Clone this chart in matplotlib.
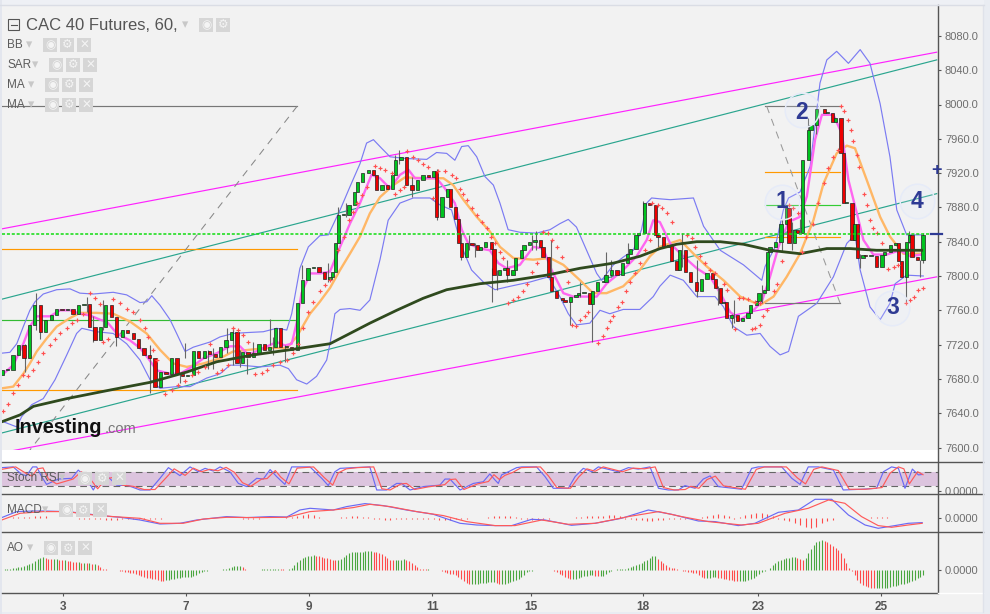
import matplotlib
matplotlib.use("Agg")
import matplotlib.pyplot as plt
import numpy as np
from matplotlib.lines import Line2D
from matplotlib.patches import Rectangle
from matplotlib.transforms import Bbox, TransformedBbox

plt.rcParams['font.family'] = ['Liberation Sans', 'DejaVu Sans']

# ---------------- data (x in trading hours from the chart's left edge) ----------------
title = "CAC 40 Futures, 60,"
day_labels = ["3", "7", "9", "11", "15", "18", "23", "25"]
day_hours = [22.3, 67.3, 112.4, 157.4, 193.6, 234.5, 276.6, 321.8]
price_ticks = list(range(7600, 8081, 40))

candle_hours = list(range(0, 121, 2)) + [
    121,122,123,125,127,129,130,132,134,136,137,139,141,143,144,146,148,150,152,154,156,158,159,161,163,164,
    166,167,168,170,172,174,175,177,179,180,182,184,185,187,188,190,191,193,195,197,198,200,201,203,205,206,
    208,210,211,213,215,216,218,220,221,223,225,227,229,230,232,233,235,237,239,240,
    242,244,245,247,248,250,252,254,256,258,260,261,263,264,265,267,269,271,273,274,276,277,279,280,281,283,
    285,287,288,290,291,293,295,296,298,301,302,304,305,307,308,309,311,312,313,315,316,318,320,322,323,325,
    327,328,329,331,332,333,335,337]
closes = [7690,7690,7708,7719,7704,7743,7766,7735,7749,7754,7761,7760,7761,7756,7766,7767,7741,7725,7741,7766,
          7752,7729,7737,7733,7727,7716,7708,7704,7671,7688,7686,7704,7686,7683,7684,7713,7704,7712,7709,7706,
          7717,7725,7735,7698,7711,7706,7710,7721,7714,7717,7739,7717,7717,7714,7768,7795,7809,7810,7805,7797,7799,
          7805,7838,7871,7871,7883,7898,7910,7920,7924,7918,7900,7906,7902,7918,7935,7939,7906,7900,7912,7918,7916,
          7923,7869,7892,7902,7881,7866,7838,7822,7838,7836,7830,7834,7840,7832,7801,7807,7809,7801,7807,7821,7830,
          7836,7840,7842,7834,7822,7799,7782,7774,7772,7770,7776,7778,7780,7780,7767,7782,7793,7793,7801,7807,7801,
          7815,7826,7832,7848,7850,7885,7883,7848,7846,
          7834,7836,7817,7807,7830,7805,7793,7782,7797,7803,7797,7786,7768,7770,7751,7755,7747,7751,7757,7766,7771,
          7780,7784,7828,7834,7840,7861,7879,7838,7854,7850,7935,7970,7976,7995,7990,7990,7980,7984,7943,7885,7885,
          7842,7861,7821,7825,7823,7823,7811,7825,7828,7836,7838,7817,7799,7840,7848,7822,7819,7848]
first_open = 7685

wick_hours = [8.4,12.5,14,31,33.4,37,41.7,54,65,67,75.5,77.3,82.2,84.6,87,89.5,92,98,99.3,103.5,109.6,119.4,
              123,126,143.8,145.4,150,159,168,171,173,179.4,181,184.6,193.8,195.4,201,208,211.5,215.7,221,223,229,234.6,240,
              248.7,254.2,262,267,268,278,285.3,289,292,295,298,314,330.8,332,336,337]
wick_high = [7721,7780,7758,7776,7753,7772,7741,7719,7686,7722,7714,7716,7739,7741,7714,7704,7723,7750,7729,7719,7813,7815,
             7881,7885,7941,7947,7916,7925,7850,7848,7838,7809,7807,7819,7848,7852,7842,7776,7793,7782,7828,7819,7838,7887,7850,
             7850,7819,7788,7756,7772,7789,7867,7863,7867,7984,7995,7826,7803,7852,7819,7850]
wick_low = [7688,7737,7727,7758,7723,7737,7718,7663,7675,7704,7692,7692,7710,7696,7694,7686,7706,7719,7708,7700,7797,7793,
            7838,7869,7918,7931,7892,7865,7819,7830,7822,7770,7784,7793,7830,7830,7795,7743,7776,7723,7799,7799,7819,7871,7834,
            7811,7776,7766,7739,7745,7768,7828,7830,7850,7966,7966,7809,7768,7838,7799,7815]

bb_up_h = [-0.1,2.9,5.4,7.8,10.2,12.1,15.1,20,24.9,28.5,33.4,40.7,45.6,50.5,53,54.8,57.8,61.5,63.9,67,70,76.1,79.8,84.6,89.5,95.6,100.5,104.2,106,109,112.1,116.3,119.4,
           123.7,127.3,131,133.4,135.9,138.9,142,148,155.4,159,162.7,165.7,168.2,170.6,173.7,176.7,179.8,182.2,185.2,189.5,195.6,200.5,204.1,207.2,210.2,213.9,217.6,219.4,223.7,227.3,231,234,235.9,237.7,240.7,
           244.5,253,256.7,262.8,271.3,278,279.2,282.9,285.9,287.8,292,295.7,299.3,301.8,305.4,309.7,314,317.6,321.3,324.9,327.4,331,336.5]
bb_up = [7710,7711,7721,7741,7760,7770,7779,7784,7785,7780,7779,7781,7778,7769,7770,7777,7766,7749,7733,7712,7717,7723,7729,7733,7734,7735,7739,7737,7756,7809,7834,7847,7848,
         7877,7904,7931,7955,7959,7949,7939,7937,7936,7944,7943,7935,7951,7952,7939,7916,7906,7885,7854,7851,7850,7854,7861,7866,7857,7830,7803,7795,7813,7822,7830,7854,7885,7891,7890,
         7889,7891,7858,7830,7813,7795,7811,7834,7877,7891,7898,7928,8025,8052,8062,8048,8064,8048,8001,7939,7877,7848,7848]
bb_lo_h = [0.5,5.4,7.2,10.9,15.1,19.4,23.7,27.3,29.2,34.6,40.7,45.6,50.5,54.2,57.8,63.9,68.8,74.9,79.8,83.4,87.1,94.4,101.7,104.8,107.8,111.5,115.1,118.8,120,
           121.8,123.7,127.3,131,134.6,138.3,141.3,145.6,150.5,156.6,160.2,164.5,168.2,171.8,176.1,180.4,185.9,193.2,199.9,204.1,207.2,210.2,215.1,218.8,222.4,227.3,233.4,238.3,240.7,
           244.5,249.3,254.2,260.9,264,267.6,272.5,277.4,281,284.7,287.8,291.4,298.1,304.2,309.1,312.1,314,317.6,321.3,324.9,326.8,331,337.1]
bb_lo = [7630,7624,7636,7650,7657,7679,7708,7733,7739,7735,7733,7721,7702,7679,7669,7671,7671,7681,7686,7696,7696,7694,7696,7692,7679,7674,7683,7702,7721,
         7756,7761,7762,7760,7772,7819,7865,7885,7891,7891,7883,7877,7834,7807,7793,7784,7788,7793,7799,7776,7756,7743,7745,7760,7756,7761,7761,7776,7788,
         7801,7795,7776,7776,7764,7741,7731,7733,7718,7708,7712,7753,7768,7799,7838,7848,7807,7764,7749,7768,7791,7801,7800]

fast_h = [0.5,4.1,7.8,10.2,12.7,17.6,21.2,24.9,28.5,32.2,35.9,38.3,42,46.8,50.5,53.5,56.6,61.5,65.1,69.4,73.7,78.6,83.4,87.1,90.1,94.4,100.5,103.5,106,107.8,109.6,112.7,116.3,120,
          123.7,127.3,131,135.2,138.3,142,145.6,148.7,151.1,155.4,159,162.1,165.7,168.2,170.6,174.9,178.5,181.6,184.6,189.5,194.4,198,201.1,205.4,209,213.9,217.6,221.2,227.3,232.2,235.9,238.3,240.7,
          244.5,249.3,254.2,259.1,262.8,266.4,270.1,273.7,278,281,284.1,287.8,292,294.5,297.5,300,304.2,307.3,309.7,312.8,315.2,318.8,323.7,328.6,332.3,336.5]
fast = [7686,7696,7721,7741,7753,7753,7760,7760,7756,7754,7749,7747,7733,7725,7716,7704,7690,7686,7686,7694,7704,7710,7718,7718,7708,7714,7723,7719,7721,7745,7780,7803,7803,7805,
        7834,7861,7885,7918,7914,7902,7918,7924,7914,7914,7914,7902,7885,7854,7838,7832,7830,7815,7809,7813,7834,7832,7807,7780,7776,7776,7776,7791,7807,7823,7842,7865,7863,
        7838,7823,7809,7799,7780,7758,7749,7756,7770,7799,7834,7863,7869,7893,7959,7988,7988,7966,7912,7873,7842,7825,7825,7830,7823,7825]

slow_h = [-0.1,4.1,7.8,10.2,12.7,16.3,20,24.9,28.5,34.6,40.7,46.8,52.9,57.8,62.7,67.6,73.7,79.8,84.6,90.7,96.8,104.2,107.8,112.7,116.3,120,
          123.7,127.3,131,134.6,138.3,143.2,147.4,155.4,161.5,165.1,168.8,173.7,178.5,182.2,187.1,194.4,200.5,205.4,211.5,216.3,221.2,227.3,233.4,237.1,240.7,
          248.1,253,257.9,264,270.1,277.4,282.3,287.1,292,296.9,300.6,305.4,309.1,312.1,316.4,321.3,324.9,329.8,336.5]
slow = [7669,7671,7686,7698,7712,7727,7741,7751,7757,7757,7756,7747,7733,7714,7698,7694,7698,7704,7712,7714,7716,7716,7729,7756,7770,7786,
        7807,7826,7846,7873,7892,7906,7915,7914,7914,7906,7889,7869,7852,7834,7821,7819,7821,7813,7795,7780,7780,7788,7807,7823,7834,
        7842,7826,7811,7795,7776,7766,7776,7799,7826,7865,7908,7943,7952,7949,7912,7869,7846,7826,7826]

long_h = [-0.1,6.6,11.5,23.7,39.5,54.2,67.6,78.6,92,105.4,120,126.1,134.6,144.4,154.1,162.7,174.9,187.1,199.3,211.5,223.7,233.4,240.8,
          246.9,254.2,262.8,271.3,281,292,301.8,310.3,320,336.5]
long_ma = [7630,7638,7648,7657,7667,7676,7688,7700,7708,7714,7721,7731,7745,7760,7774,7784,7791,7795,7801,7809,7815,7823,7832,
           7837,7840,7840,7837,7830,7826,7832,7832,7830,7830]

sar_h = [0.5,2.3,4.2,6,7.8,9.6,11.5,13.3,15.1,17.6,19.4,21.2,23.7,25.5,27.3,29.8,32.2,34,35.9,37.1,38.9,40.7,43.2,45.6,48.1,50.5,52.3,53.5,55.4,56.6,
         59.6,62.1,64.5,67,69.4,71.8,74.3,76.1,78.5,80.4,82.8,84.6,86.5,88.3,90.1,92.6,95,96.8,99.3,101.7,104.2,106.6,108.4,110.3,112.1,113.9,116.3,118.2,120,
         123,125,127,128.5,130,131.6,133.4,136.5,138.3,140.1,142.6,143.8,145.6,147,148.3,150.5,152.3,154.1,156,157.8,159.6,162.1,164.5,166.3,167.6,168.8,170,171.8,173.7,175.5,177.3,179.1,180.4,182.2,183.4,
         185.2,187.1,188.9,190.7,192,193.8,195.6,198,199.9,201.1,202.9,204.8,206.6,207.2,208.4,210.2,211.5,213.3,214.5,
         218.2,220,221.2,222.4,223.7,225.5,226.7,228.5,229.8,231.6,233.4,235.2,237.1,237.7,240.1,
         241.4,243.2,245.1,250.6,252.4,253.6,255.4,257.3,259.1,260.9,264,265.2,268.2,269.5,271.3,273.1,275.6,277.4,274.3,275.6,277.4,278.6,279.8,282.3,283.5,285.3,
         287.8,289.6,291.4,292.6,294.1,296.9,298.7,300.6,302.4,304.2,306,306.9,308.1,309.7,310.6,311.5,312.8,313.7,315.4,316.4,317.6,318.8,320,321.9,324.3,326.2,328,330.8,332.3,333.7,335.3,336.9]
sar = [7642,7651,7663,7673,7685,7683,7690,7700,7710,7720,7727,7733,7739,7745,7749,7756,7780,7774,7767,7723,7727,7773,7768,7762,7758,7749,7739,7729,7714,7702,
       7662,7667,7673,7677,7684,7688,7694,7721,7687,7690,7696,7739,7737,7731,7723,7686,7687,7690,7696,7700,7702,7710,7721,7739,7758,7770,7782,7789,7795,
       7830,7846,7865,7875,7885,7895,7904,7928,7926,7924,7920,7896,7900,7904,7946,7939,7935,7931,7927,7891,7923,7922,7918,7914,7902,7896,7889,7879,7871,7863,7856,7846,7838,7828,7821,
       7769,7772,7776,7782,7791,7805,7815,7851,7850,7842,7834,7822,7807,7793,7743,7742,7749,7753,7758,
       7722,7730,7739,7747,7753,7764,7770,7782,7793,7803,7815,7830,7842,7885,7883,
       7879,7873,7863,7848,7844,7834,7823,7815,7807,7803,7791,7784,7738,7774,7774,7773,7770,7768,7738,7739,7743,7753,7760,7782,7791,7817,
       7883,7879,7874,7828,7846,7861,7885,7908,7926,7939,7947,7998,7992,7982,7970,7957,7941,7927,7896,7883,7865,7856,7850,7838,7808,7811,7813,7768,7772,7775,7784,7786]

k_h = [-0.1,4.1,7.2,9,11.2,12.7,14.5,16.3,20.6,25.5,27.9,30.4,33.4,35.9,38.3,42,46.2,50.5,54.2,57.8,60.9,65.1,68.8,71.8,74.3,77.3,79.8,83.4,86.5,89.5,93.2,95.6,98.1,100.5,103.5,106,112.7,117,119.4,121.8,123.7,128.5,134.6,137.1,140.7,144.4,146.2,149.3,154.2,160.2,162.1,163.9,167.6,172.5,176.1,178.5,180.4,
       181.6,182.8,185.3,188.3,190.2,195.6,198.7,201.7,207.2,209.7,212.7,215.8,218.2,225.5,229.2,232.8,237.1,240.2,243.8,247.5,249.9,253.6,256.6,259.1,262.1,270.6,274.3,276.7,285.3,289,292,295,298.7,304.2,307.8,314.5,320,322.5,325.5,328,330.4,333.1,335.3,336.7]
k_val = [97,100,69,64,100,100,60,28,50,53,87,60,5,53,64,25,23,5,5,53,97,64,100,80,94,83,100,80,32,19,53,50,89,60,28,100,100,53,23,80,94,97,100,5,5,32,32,5,19,25,50,50,5,32,39,71,46,
         32,67,80,97,100,100,60,12,12,60,94,80,100,80,97,91,100,12,5,5,23,12,50,63,19,8,94,100,100,53,28,100,100,87,5,8,12,80,100,94,12,91,67,69]
d_h = [-0.1,5,9,11,13,15,17,20,26,29,32,35,38,41,44,48,52,56,60,63,67,70,73,76,79,82,85,88,91,95,97,100,102,105,108,114,118,121,123,126,130,136,139,142,146,148,151,156,162,164,166,169,174,178,180,182,
       184,187,190,197,200,203,208,211,214,217,220,227,231,235,239,242,246,250,252,255,258,261,264,272,276,279,287,291,294,297,300,306,310,316,322,325,328,330,332,335,337]
d_val = [90,100,72,62,92,96,50,30,50,80,55,10,50,58,25,20,7,7,55,92,65,95,80,90,84,98,78,35,20,50,52,85,58,30,95,100,55,25,75,92,97,100,10,5,30,32,7,18,27,48,50,7,30,40,68,48,
         65,78,97,100,62,15,12,58,92,82,100,80,95,92,100,15,5,7,20,12,48,62,22,8,90,100,100,55,30,90,100,85,8,8,15,75,100,92,30,80,68]

macd_h = [-0.1,5.4,11.5,15.1,23.7,29.8,35.9,43.2,50.5,57.8,65.1,71.2,82.2,89.5,98.1,104.2,109,112.7,121.2,126.1,132.8,139.5,148,157.8,167.6,173.7,180.4,
          186.5,193.8,198.7,208.4,217,226.7,236.5,245,254.8,260.9,269.4,275.5,284.1,291.4,297.5,303.6,309.7,315.8,320.6,326.7,331.6,336.7]
macd = [0.7,6.7,7.3,7.3,6.7,5,2.7,1,-1.7,-5.7,-5,-1.7,1.7,0.7,1.7,1.3,8.3,10,8.3,11.7,14.7,12.7,8.3,4,-5,-6.7,-7.3,
        -7.3,-1,-1.7,-7,-5,0,8.3,4,-2.7,-3.3,-7.3,-5,6,8.3,19,19,3.3,-6.7,-10,-7.3,-5,-4.3]
signal_h = [-0.1,6.6,15.1,23.7,31,40.7,50.5,57.8,66.3,73.7,82.2,92,104.2,112.7,121.2,128.5,134.6,142,151.7,161.5,170,180.4,
            187.7,197.5,207.2,217,229.2,240.2,248.7,258.4,270.6,276.7,286.5,295,302.4,308.4,314.5,320.6,325.5,331.6,336.7]
signal = [-1.7,5,6.7,6.7,4,1.7,0,-5,-5,-0.7,1,0.7,1,6.7,8.3,10.7,14,11.7,6.7,2.7,-3.3,-7.3,
          -7.3,-1.7,-6,-5,1.7,6.7,1.7,-3.3,-6.7,-5,5,10,18.3,15,1.7,-7.3,-9,-6.7,-5]
hist = [.5,.7,1,1.2,1.5,1.7,2,2.2,2,0,0,0,0,.3,-.3,-.5,-.5,-.7,-1,-1.5,-2,-1.5,-.7,-.7,-1,-1,-1,-1,-.7,-.5,
        0,.5,.5,0,.5,.7,.7,.7,.5,.7,.5,.7,.5,.5,-.7,-1,-.7,-.5,.5,.5,.5,.3,1,1.5,2,3,4,3,1,.5,
        .3,.3,1,1.7,2,2,1.7,1,-.7,-1,-1.5,-1.5,-1,-.5,-.5,-.5,-.5,-.5,-.5,-1,-1.5,-2,-1.5,-1,-.5,-.5,.5,.5,0,1,2,2.5,2.5,2,
        1,-.5,-1,-1.5,-1.5,-1,-.5,.3,.5,.5,.7,1,1.5,2,2,2.5,2.5,3,3,2.5,-.5,-1,-1.5,-2,-3,-3,-2,-1.5,-.5,-.5,-.5,-.5,.5,.7,
        1.5,2.5,3.5,4,3.5,2,-.3,1.5,3,4.5,5.5,5.5,4,2,-.5,-1.5,-3,-5,-7,-9,-10,-9,-5,-3,-2,0,.5,.7,.5,0,.7,1,1,1,1]

ao = [.5,.7,1,1.5,2,2.5,3,3.5,4.5,5.5,6,7,9,11,12.5,13,12,11.5,11,11,
      11,10.5,10,10,9.5,9,8.5,8,8,7.5,7.5,7,7,6.5,6.5,5,3,1.5,1,.5,
      0,.3,0,-.5,-1,-1.5,-2,-2.5,-3,-4,-5,-6,-7,-7.5,-8,-8.5,-9,-10,-10.5,-11,
      -10,-9.5,-9,-8.5,-8,-7.5,-7,-7,-6.5,-6.5,-6,-4.5,-2.5,-1.5,-.7,-.5,-.2,0,0,0,
      .5,1,1.5,2.5,3.5,4,4,4,3,1.5,.5,.5,.3,.3,.5,.7,.8,.9,1,1,
      1,1,.8,.7,.5,1,2.5,5,8,10,12,13,14,14.5,15,14.5,14,13,12.5,12,
      11,10.5,10,10,11,13,15,17,18,18.5,18.5,18.5,18.5,19,19,19,18.5,18,17,16,
      14,12,10.5,10,10,10,10.5,11,10.5,9,7,5,3,1.5,1,.7,.7,.5,.5,.5,
      -.3,-1,-1.5,-3,-3.5,-4,-5,-7,-9,-11,-13,-14,-14,-14,-13.5,-13,-13,-12.5,-12,-12,
      -12,-13,-14,-14,-13.5,-13,-12,-11,-10,-9,-7,-5,-2,-1,-.5,0,.5,.5,.3,.2,
      0,-.3,-1,-2,-3.5,-5,-6.5,-8,-9,-9,-8.5,-7.5,-7,-6,-5.5,-5,-5,-5.5,-6,-6,
      -5.5,-4,-2,-.5,.5,.7,1,1,1.5,2.5,3,4,5,6,7.5,9,10.5,12.5,14,14,
      11,9,7,5,3.5,2.5,2,1.5,.5,-.5,-1,-1.5,-2,-2.5,-3,-5,-7,-8,-8,-7.5,
      -7,-7,-7.5,-8,-8.5,-9,-9.5,-10,-10.5,-11,-11,-11,-10.5,-10,-9,-8,-6,-4,-2,-1,
      0,2.5,5,7,9,10,11,12,12.5,13,13,12.5,11.5,10.5,12,17,21,25,28,29.5,
      30,29.5,28,26,24,22,20,17,12,7,2.5,-1,-5,-10,-13,-15,-16,-17,-17.5,-18,
      -18,-18,-18,-18,-17.5,-17,-16,-15.5,-15,-14,-13.5,-13,-12,-11,-9.5,-8,-6.5,-5]

magenta_upper = ([0, 342], [7855, 8061])
teal_upper = ([0, 342], [7773, 8052])
teal_lower = ([0, 342], [7617, 7896])
magenta_lower = ([0, 342], [7594, 7799])
fib_left_hours = (0, 108)
fib_left_levels = [(7998, '#777777'), (7832, '#ff9900'), (7749, '#33bb33'), (7667, '#ff9900')]
fib_left_diag = ([108, 10.2], [7998, 7597])
fib_right_hours = (279.2, 306.6)
fib_right_levels = [(7998, '#777777'), (7921, '#ff9900'), (7883, '#33cc33'), (7845, '#ff9900'), (7768, '#777777')]
fib_right_diag = ([279.8, 306.7], [7998, 7768])
last_level = 7848.6
wave_labels = ["1", "2", "3", "4"]
wave_hours = [285.3, 292.6, 325.8, 334.7]
wave_prices = [7886.6, 7991, 7763, 7887]
wave_circle_prices = [7886.6, 7994, 7763, 7887]

# ---------------- layout helpers ----------------
W, H = 990, 614
BG = '#f2f2f2'
fig = plt.figure(figsize=(W/100, H/100), dpi=100, facecolor=BG)
def box(x0, y0, x1, y1):
    return [x0/W, 1-y1/H, (x1-x0)/W, (y1-y0)/H]
def fx(x): return x/W
def fy(y): return 1-y/H
def hline(x0, x1, y, color='#555555', lw=1.0):
    fig.add_artist(Line2D([fx(x0), fx(x1)], [fy(y), fy(y)], color=color, lw=lw, transform=fig.transFigure))
def vline(x, y0, y1, color='#555555', lw=1.0):
    fig.add_artist(Line2D([fx(x), fx(x)], [fy(y0), fy(y1)], color=color, lw=lw, transform=fig.transFigure))
def rect(x0, y0, x1, y1, color):
    fig.add_artist(Rectangle((fx(x0), fy(y1)), (x1-x0)/W, (y1-y0)/H, color=color, lw=0, transform=fig.transFigure))

XL, XR = 2, 938
xlim = (0, (XR-XL)/2.733)
LBL = '#6e6e6e'

rect(0, 0, 990, 5, '#eef0f5')
rect(984, 0, 990, 614, '#e9ecf2')
rect(0, 612, 990, 614, '#e9ecf2')
rect(0, 0, 2, 614, '#e3e6ee')
rect(XL, 450, XR, 462, 'white')

# ---------------- main panel ----------------
ax = fig.add_axes(box(XL, 5, XR, 450), facecolor=BG)
ax.set_xlim(xlim)
ax.set_ylim(7600-(450-447.5)/0.8575, 7600+(447.5-5)/0.8575)
for s in ax.spines.values():
    s.set_visible(False)
ax.set_xticks([])
ax.yaxis.tick_right()
ax.set_yticks(price_ticks)
ax.set_yticklabels([f"{p:.1f}" for p in price_ticks])
ax.tick_params(axis='y', length=2, width=0.8, color='#555555', labelcolor=LBL, labelsize=8, pad=3)

ax.plot(*magenta_upper, color='#ff22ff', lw=0.85, zorder=2)
ax.plot(*magenta_lower, color='#ff22ff', lw=0.85, zorder=2)
ax.plot(*teal_upper, color='#2aa58e', lw=0.85, zorder=2)
ax.plot(*teal_lower, color='#2aa58e', lw=0.85, zorder=2)
for lvl, col in fib_left_levels:
    ax.plot(fib_left_hours, [lvl, lvl], color=col, lw=0.85, zorder=2)
for lvl, col in fib_right_levels:
    ax.plot(fib_right_hours, [lvl, lvl], color=col, lw=0.85, zorder=2)
ax.plot(*fib_left_diag, color='#888888', lw=0.75, dashes=(7, 6), zorder=2)
ax.plot(*fib_right_diag, color='#999999', lw=0.75, dashes=(7, 6), zorder=2)

ax.plot(bb_up_h, bb_up, color='#7b7bf2', lw=0.85, zorder=3)
ax.plot(bb_lo_h, bb_lo, color='#7b7bf2', lw=0.85, zorder=3)
ax.plot(slow_h, slow, color='#ffb766', lw=1.7, zorder=3)
ax.plot(fast_h, fast, color='#ff66f0', lw=1.7, zorder=3)

ax.vlines(wick_hours, wick_low, wick_high, color='#666666', lw=0.8, zorder=4)
opens = [first_open] + closes[:-1]
for h, o, c in zip(candle_hours, opens, closes):
    col = '#00c41f' if c >= o else '#ee0000'
    ax.bar(h, max(abs(c-o), 1.5), bottom=min(o, c), width=1.2, color=col, edgecolor='#222222', linewidth=0.5, zorder=5)

ax.plot(long_h, long_ma, color='#2f4a1e', lw=2.0, zorder=6)
ax.scatter(sar_h, sar, marker='+', s=8, linewidths=0.85, color='#ff5050', zorder=7)
ax.axhline(last_level, color='#11dd11', lw=1.1, dashes=(2, 1.2), zorder=7)

ax.scatter(wave_hours, wave_circle_prices, s=620, facecolors=(0.88, 0.92, 1, 0.18), edgecolors='#e6ebf8', linewidths=1.1, zorder=8)
for lab, h, p in zip(wave_labels, wave_hours, wave_prices):
    ax.text(h, p, lab, color='#2e3a94', fontsize=16.5, fontweight='bold', ha='center', va='center', zorder=9)

# ---------------- lower panels ----------------
stoch = fig.add_axes(box(XL, 462, XR, 494), facecolor=BG)
stoch.set_xlim(xlim)
stoch.set_ylim((491.2-494)/0.243, (491.2-462)/0.243)
stoch.axhspan(20, 80, color='#dcc4de', lw=0)
stoch.axhline(80, color='#666666', lw=0.8, dashes=(6, 4))
stoch.axhline(20, color='#666666', lw=0.8, dashes=(6, 4))
stoch.plot(k_h, k_val, color='#6a6af5', lw=0.85)
stoch.plot(d_h, d_val, color='#ff5a5a', lw=0.85)

macd_ax = fig.add_axes(box(XL, 494, XR, 532), facecolor=BG)
macd_ax.set_xlim(xlim)
macd_ax.set_ylim(-13.7, 24.3)
macd_ax.vlines(np.arange(len(hist))*2, 0, hist, color='#ff4a4a', lw=0.8)
macd_ax.plot(macd_h, macd, color='#6a6af5', lw=0.85)
macd_ax.plot(signal_h, signal, color='#ff5a5a', lw=0.85)

ao_ax = fig.add_axes(box(XL, 532, XR, 593), facecolor=BG)
ao_ax.set_xlim(xlim)
ao_ax.set_ylim(-23, 38)
ao_vals = np.array(ao)
ao_rising = np.r_[True, np.diff(ao_vals) >= 0]
ao_hours = np.arange(len(ao_vals))
ao_ax.vlines(ao_hours[ao_rising], 0, ao_vals[ao_rising], color='#4aa63f', lw=0.8)
ao_ax.vlines(ao_hours[~ao_rising], 0, ao_vals[~ao_rising], color='#ff4a4a', lw=0.8)

for a in (stoch, macd_ax, ao_ax):
    for s in a.spines.values():
        s.set_visible(False)
    a.set_xticks([])
    a.yaxis.tick_right()
    a.set_yticks([0])
    a.set_yticklabels(["0.0000"])
    a.tick_params(axis='y', length=2, width=0.8, color='#555555', labelcolor=LBL, labelsize=8, pad=3)
fig.canvas.draw()
clip = TransformedBbox(Bbox([[0, 1-494/H], [1, 1-462/H]]), fig.transFigure)
for t in stoch.get_yticklabels():
    t.set_clip_box(clip)
    t.set_clip_on(True)

ao_ax.set_xticks(day_hours)
ao_ax.set_xticklabels(day_labels)
ao_ax.tick_params(axis='x', length=2, width=0.8, color='#555555', labelcolor='#555555', labelsize=8.5, pad=4)
for t in ao_ax.get_xticklabels():
    t.set_fontweight('bold')

# frame lines
vline(XR, 5, 593)
for y in (462, 494, 532):
    hline(XL, 983, y)
hline(XL, XR, 593)
hline(XR, 983, 593, color='white', lw=1)
vline(983, 5, 612, color='#dfe2ea', lw=1)
hline(0, 984, 5, color='#dadde5', lw=1)

# ---------------- header, icons, watermark ----------------
ICON = '#d6d6d6'
def icons(xs, y0, y1, close=True):
    glyphs = ['\u25c9', '\u2699', '\u2715'] if close else ['\u25c9', '\u2699']
    for x, g in zip(xs, glyphs):
        rect(x, y0, x+14, y1, ICON)
        fig.text(fx(x+7), fy((y0+y1)/2), g, color='#f4f4f4', fontsize=8.5, ha='center', va='center', family='DejaVu Sans')
def label(x, y, s, size=8.5):
    fig.text(fx(x), fy(y), s, color='#5c5c5c', fontsize=size, ha='left', va='center')
def tri(x, y):
    fig.text(fx(x), fy(y), '\u25be', color='#c8c8c8', fontsize=9, ha='center', va='center', family='DejaVu Sans')

fig.add_artist(Rectangle((fx(8), fy(30)), 11/W, 11/H, fc='none', ec='#555555', lw=0.8, transform=fig.transFigure))
hline(10.5, 16.5, 24.5, lw=0.8)
fig.text(fx(26), fy(25), title, color='#555555', fontsize=12, ha='left', va='center')
tri(185, 25); icons([199, 216], 18, 32, close=False)
label(7, 45, "BB"); tri(29, 45); icons([43, 60, 77], 38, 52)
label(7, 65, "SAR"); tri(35, 65); icons([49, 66, 83], 58, 72)
label(7, 85, "MA"); tri(31, 85); icons([45, 62, 79], 78, 92)
label(7, 105, "MA"); tri(31, 105); icons([45, 62, 79], 98, 112)
label(7, 478, "Stoch RSI"); tri(62, 478); icons([78, 95, 112], 472, 485)
label(7, 510, "MACD"); tri(45, 510); icons([59, 76, 93], 503, 517)
label(7, 548, "AO"); tri(30, 548); icons([44, 61, 78], 541, 555)

fig.text(fx(15), fy(433), "Investing", color='#111111', fontsize=14.3, fontweight='bold', ha='left', va='baseline')
fig.text(fx(105), fy(433), ".com", color='#777777', fontsize=10.5, ha='left', va='baseline')

fig.text(fx(936.7), fy(171), "+", color='#2e3a94', fontsize=13, fontweight='bold', ha='center', va='center')
hline(931, 942, 234, color='#2e3a94', lw=1.6)

fig.savefig("out.png", dpi=100, facecolor=fig.get_facecolor())
